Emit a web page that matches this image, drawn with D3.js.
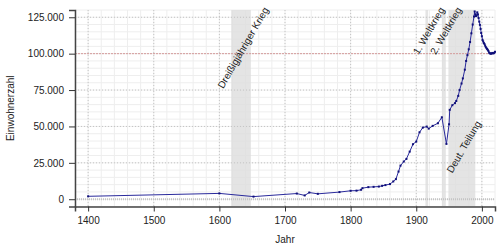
<!DOCTYPE html>
<html>
<head>
<meta charset="utf-8">
<script src="https://cdn.jsdelivr.net/npm/d3@7"></script>
<style>
  body { margin: 0; background: #fff; }
  svg { display: block; font-family: "Liberation Sans", Arial, sans-serif; }
</style>
</head>
<body>
<svg id="chart" width="500" height="250"></svg>
<script>
// Einwohnerentwicklung, values

var years = [1400, 1600, 1652, 1718, 1730, 1737, 1750, 1783, 1800, 1809, 1816, 1818, 1827, 1835,
  1843, 1848, 1853, 1860, 1865, 1869, 1873, 1876, 1881, 1885, 1890, 1895, 1900, 1905, 1910,
  1916, 1919, 1925, 1933, 1939, 1946, 1950, 1951, 1955, 1959, 1961, 1964, 1966, 1969, 1971,
  1974, 1976, 1978, 1980, 1982, 1984, 1986, 1988, 1989, 1990, 1991, 1992, 1993, 1994, 1995,
  1996, 1997, 1998, 1999, 2000, 2001, 2002, 2003, 2004, 2005, 2006, 2007, 2008, 2009, 2010,
  2011, 2012, 2013, 2014, 2015, 2016, 2017, 2018, 2019, 2020];

var population = [2000, 4000, 1800, 3900, 2600, 4600, 3700, 4900, 5800, 5900, 6500, 7600, 8300, 8500,
  8700, 9200, 9700, 10400, 12200, 13800, 19000, 23100, 25900, 27700, 32700, 37800, 39600, 46000, 49200,
  49900, 48500, 50400, 52200, 56300, 38000, 51500, 61400, 64600, 66000, 67500, 71000, 75000, 79500, 83000,
  89000, 95000, 99000, 103000, 108000, 114000, 120000, 125500, 129000, 127000, 125800, 126200, 128400, 127000, 124500,
  122000, 119800, 117000, 114200, 112000, 109500, 108400, 107300, 106600, 105500, 104500, 103800, 103200, 102600, 101800,
  100700, 100300, 100100, 100000, 100200, 100500, 100300, 100300, 100600, 101300];

// shaded periods
var periodNames = ["Dreißigjähriger Krieg", "1. Weltkrieg", "2. Weltkrieg", "Deut. Teilung"];
var periodStart = [1618, 1914, 1939, 1949];
var periodEnd = [1648, 1918, 1945, 1990];

var xTicks = [1400, 1500, 1600, 1700, 1800, 1900, 2000];
var yTicks = [0, 25000, 50000, 75000, 100000, 125000];

var svg = d3.select("#chart");
// careful: "top" is taken by window.top
var plotL = 75, plotR = 495, plotT = 10, plotB = 206.5;

var x = d3.scaleLinear().domain([1380, 2020]).range([plotL, plotR]);
var y = d3.scaleLinear().domain([-5000, 130000]).range([plotB, plotT]);

var fmt = function(d) { return d3.format(",")(d).replace(/,/g, "."); };

var minorX = d3.range(1380, 2021, 20);
var minorY = d3.range(-5000, 130001, 5000);

// minor grid
svg.append("g").selectAll("line").data(minorX).join("line")
  .attr("x1", function(d) { return x(d); }).attr("x2", function(d) { return x(d); })
  .attr("y1", plotT).attr("y2", plotB)
  .attr("stroke", "#eeeeee").attr("stroke-width", 1);
svg.append("g").selectAll("line").data(minorY).join("line")
  .attr("x1", plotL).attr("x2", plotR)
  .attr("y1", function(d) { return y(d); }).attr("y2", function(d) { return y(d); })
  .attr("stroke", "#eeeeee").attr("stroke-width", 1);

// grey bands
svg.append("g").selectAll("rect").data(periodNames).join("rect")
  .attr("x", function(d, i) { return x(periodStart[i]); })
  .attr("width", function(d, i) { return x(periodEnd[i]) - x(periodStart[i]); })
  .attr("y", plotT).attr("height", plotB - plotT)
  .attr("fill", "#dddddd").attr("opacity", 0.8);

// major grid, dotted
svg.append("g").selectAll("line").data(xTicks).join("line")
  .attr("x1", function(d) { return x(d); }).attr("x2", function(d) { return x(d); })
  .attr("y1", plotT).attr("y2", plotB)
  .attr("stroke", "#c4c4c4").attr("stroke-dasharray", "1,2");
svg.append("g").selectAll("line").data(yTicks.filter(function(d) { return d !== 0 && d !== 100000; })).join("line")
  .attr("x1", plotL).attr("x2", plotR)
  .attr("y1", function(d) { return y(d); }).attr("y2", function(d) { return y(d); })
  .attr("stroke", "#c4c4c4").attr("stroke-dasharray", "1,2");

// zero line and the 100.000 line
svg.append("line").attr("x1", plotL).attr("x2", plotR).attr("y1", y(0)).attr("y2", y(0))
  .attr("stroke", "#c4c4c4").attr("stroke-width", 2).attr("stroke-dasharray", "1,1");
svg.append("line").attr("x1", plotL).attr("x2", plotR).attr("y1", y(100000)).attr("y2", y(100000))
  .attr("stroke", "#d49a9a").attr("stroke-width", 1).attr("stroke-dasharray", "2,1");

// period labels, rotated
svg.append("g").selectAll("text").data(periodNames).join("text")
  .attr("font-size", 10).attr("fill", "#222")
  .attr("text-anchor", "middle").attr("dy", "0.35em")
  .text(function(d) { return d; })
  .attr("transform", function(d, i) {
    var len = this.getComputedTextLength();
    var cx = x((periodStart[i] + periodEnd[i]) / 2) + 2;
    var cy = i === 3 ? 172 - len * 0.433 : 8 + len * 0.433;
    return "translate(" + cx + "," + cy + ") rotate(-60)";
  });

// population line
var pts = years.map(function(d, i) { return [d, population[i]]; });
var line = d3.line().x(function(d) { return x(d[0]); }).y(function(d) { return y(d[1]); });
svg.append("path").datum(pts).attr("d", line)
  .attr("fill", "none").attr("stroke", "#2a2a9c").attr("stroke-width", 1);
svg.append("g").selectAll("rect").data(pts).join("rect")
  .attr("x", function(d) { return x(d[0]) - 1; }).attr("y", function(d) { return y(d[1]) - 1; })
  .attr("width", 2).attr("height", 2).attr("fill", "#10107a");

// axes
var xAxis = svg.append("g").attr("transform", "translate(0," + plotB + ")");
xAxis.call(d3.axisBottom(x).tickValues(minorX).tickSize(3).tickFormat(""));
xAxis.call(d3.axisBottom(x).tickValues(xTicks).tickSize(5).tickFormat(d3.format("d")));
xAxis.selectAll(".domain").attr("stroke", "#444").attr("stroke-width", 1.5);
xAxis.selectAll("text").attr("font-size", 10).attr("fill", "#222").attr("dy", "0.9em");

var yAxis = svg.append("g").attr("transform", "translate(" + plotL + ",0)");
yAxis.call(d3.axisLeft(y).tickValues(minorY).tickSize(3).tickFormat(""));
yAxis.call(d3.axisLeft(y).tickValues(yTicks).tickSize(6).tickFormat(fmt));
yAxis.selectAll(".domain").attr("stroke", "#444").attr("stroke-width", 1.5);
yAxis.selectAll("text").attr("font-size", 10).attr("fill", "#222").attr("dx", "-0.2em");
svg.selectAll(".tick line").attr("stroke", "#333");

// axis titles
svg.append("text").attr("x", (plotL + plotR) / 2).attr("y", 243)
  .attr("text-anchor", "middle").attr("font-size", 10).attr("fill", "#222").text("Jahr");
svg.append("text").attr("transform", "translate(14," + (plotT + plotB) / 2 + ") rotate(-90)")
  .attr("text-anchor", "middle").attr("font-size", 10).attr("fill", "#222").text("Einwohnerzahl");
</script>
</body>
</html>
